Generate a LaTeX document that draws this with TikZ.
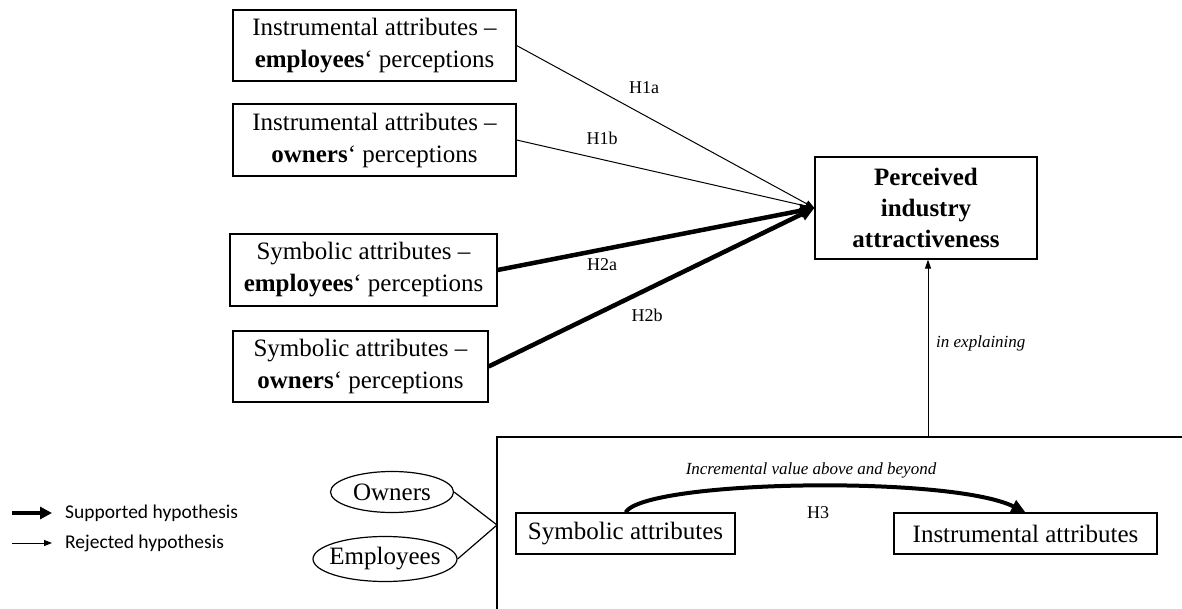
\documentclass[tikz,border=0pt]{standalone}
\usepackage{fontspec}
\setmainfont{Liberation Serif}
\newfontfamily\legendfont{Carlito}
\usepackage{tikz}
\usetikzlibrary{
  arrows.meta,     % Triangle 箭头样式
  shapes.geometric % 椭圆节点
}
\tikzset{
  attr box/.style={
    draw,
    line width=1.2pt,
    align=center,
    inner sep=0pt,
    font=\fontsize{25}{32}\selectfont
  },
  oval/.style={
    draw,
    ellipse,
    line width=1.2pt,
    inner xsep=-5pt,
    inner ysep=0pt,
    font=\fontsize{25}{30}\selectfont
  },
  weak ray/.style={
    -{Triangle[length=9pt,width=7pt]},
    line width=1pt
  },
  strong ray/.style={
    -{Triangle[length=14pt,width=13pt]},
    line width=4.5pt
  },
  hyp label/.style={
    font=\fontsize{18}{20}\selectfont
  },
  note label/.style={
    font=\fontsize{17}{20}\selectfont\itshape
  },
  legend text/.style={
    anchor=west,
    inner sep=0pt,
    font=\fontsize{19.5}{22}\selectfont\legendfont
  }
}

\begin{document}
\begin{tikzpicture}[x=1pt, y=-1pt] % 以像素为单位，y 轴向下，方便对照原图量取坐标

  \useasboundingbox (0,0) rectangle (1182,609); % 固定画布大小

  % 左侧四个属性框
  \node[attr box, minimum width=283pt, minimum height=71pt] (IE) at (374.5,45.5) {Instrumental attributes --\\\textbf{employees}` perceptions}; % 工具属性-员工
  \node[attr box, minimum width=283pt, minimum height=72pt] (IO) at (374.5,140) {Instrumental attributes --\\\textbf{owners}` perceptions}; % 工具属性-业主
  \node[attr box, minimum width=267pt, minimum height=72pt] (SE) at (363.5,270) {Symbolic attributes --\\\textbf{employees}` perceptions}; % 象征属性-员工
  \node[attr box, minimum width=255pt, minimum height=71pt] (SO) at (360.5,366.5) {Symbolic attributes --\\\textbf{owners}` perceptions}; % 象征属性-业主

  % 右侧结果框
  \node[attr box, font=\fontsize{25}{31}\selectfont\bfseries, minimum width=222pt, minimum height=102pt] (PIA) at (926,208) {Perceived\\industry\\attractiveness}; % 行业吸引力

  % 假设箭头 H1a--H2b
  \draw[weak ray] (IE.east) -- (PIA.west); % H1a 未支持
  \draw[weak ray] (IO.east) -- (PIA.west); % H1b 未支持
  \draw[strong ray] (SE.east) -- (PIA.west); % H2a 支持
  \draw[strong ray] (SO.east) -- (PIA.west); % H2b 支持
  \node[hyp label] (h1a) at (644,88) {H1a}; % 标签
  \node[hyp label] (h1b) at (602,138) {H1b};
  \node[hyp label] (h2a) at (602,265) {H2a};
  \node[hyp label] (h2b) at (647,315) {H2b};

  % 下方大框（右、下两边超出画布）
  \coordinate (frameNW) at (497,437); % 大框左上角
  \coordinate (join) at (497,525); % 两条斜线的汇合点
  \coordinate (frameTop) at (928,437); % 竖直箭头起点
  \draw[line width=1.2pt] (497,609) -- (frameNW) -- (1182,437); % 只画可见的两条边

  % 竖直箭头 in explaining
  \draw[-{Triangle[length=9pt,width=6pt]}, line width=1pt] (frameTop) -- (PIA.south -| frameTop); % 指向结果框
  \node[note label, anchor=west, inner sep=0pt] (expl) at (936,343) {in explaining};

  % 大框内的两个属性框与 H3 弧线
  \node[attr box, minimum width=219pt, minimum height=41pt] (SA) at (625.5,533.5) {Symbolic attributes}; % 象征属性
  \node[attr box, minimum width=263pt, minimum height=41pt] (IA) at (1025.5,533.5) {Instrumental attributes}; % 工具属性
  \draw[-{Triangle[length=14pt,width=13pt]}, line width=4pt] (SA.north) .. controls (645,480) and (950,475) .. (IA.north); % H3 弧线
  \node[note label] (incr) at (811,470) {Incremental value above and beyond};
  \node[hyp label] (h3) at (818,513) {H3};

  % 业主与员工两个椭圆
  \node[oval, minimum width=123pt, minimum height=41pt] (Own) at (392,492) {Owners}; % 业主
  \node[oval, minimum width=144pt, minimum height=45pt] (Emp) at (385,559) {Employees}; % 员工
  \draw[line width=1.2pt] (Own.east) -- (join); % 连到大框左边
  \draw[line width=1.2pt] (Emp.east) -- (join);

  % 图例
  \coordinate (supS) at (12,513); % 粗箭头起点
  \coordinate (rejS) at (12,543); % 细箭头起点
  \node[legend text] (supT) at (65,513) {Supported hypothesis};
  \node[legend text] (rejT) at (65,543) {Rejected hypothesis};
  \draw[-{Triangle[length=12pt,width=12pt]}, line width=4pt] (supS) -- ([xshift=-13pt]supT.west); % 支持
  \draw[-{Triangle[length=8pt,width=6pt]}, line width=1pt] (rejS) -- ([xshift=-13pt]rejT.west); % 拒绝

\end{tikzpicture}
\end{document}
